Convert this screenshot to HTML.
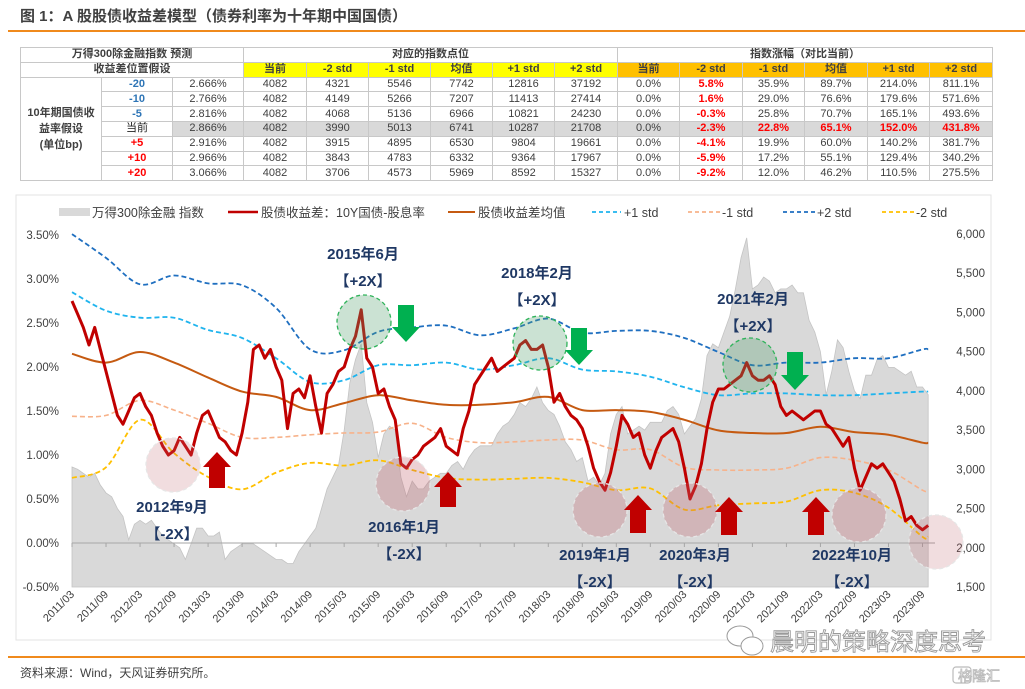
<!DOCTYPE html>
<html><head><meta charset="utf-8">
<style>
*{margin:0;padding:0;box-sizing:border-box}
body{width:1025px;height:689px;background:#fff;position:relative;overflow:hidden;font-family:"Liberation Sans","Noto Sans CJK SC",sans-serif;color:#404040}
#title{position:absolute;left:20px;top:5px;font-size:15px;font-weight:bold;color:#404040;white-space:nowrap}
.hline{position:absolute;left:8px;width:1017px;height:1.5px;background:#f08a1c}
#tbl{position:absolute;left:20px;top:47px;border-collapse:collapse;table-layout:fixed;font-size:11px}
#tbl td{border:1px solid #c8c8c8;height:14.8px;padding:0;text-align:center;line-height:13px;color:#404040;white-space:nowrap;overflow:hidden}
.b{font-weight:bold}
.y{background:#ffff00;font-weight:bold;color:#333}
.o{background:#ffc000;font-weight:bold;color:#333}
.r{color:#ff0000 !important;font-weight:bold}
.bl{color:#2e75b6 !important;font-weight:bold}
.g td{background:#d9d9d9}
#chart{position:absolute;left:0;top:0}
#footer{position:absolute;left:20px;top:664px;font-size:12px;color:#404040}
</style></head><body>
<div id="title">图 1：A 股股债收益差模型（债券利率为十年期中国国债）</div>
<div class="hline" style="top:30px"></div>

<table id="tbl">
<colgroup><col style="width:81px"><col style="width:71px"><col style="width:71px"><col style="width:63px"><col style="width:62px"><col style="width:62px"><col style="width:62px"><col style="width:62px"><col style="width:63px"><col style="width:62px"><col style="width:63px"><col style="width:62px"><col style="width:63px"><col style="width:62px"><col style="width:63px"></colgroup>
<tr><td colspan="3" class="b">万得300除金融指数 预测</td><td colspan="6" class="b">对应的指数点位</td><td colspan="6" class="b">指数涨幅（对比当前）</td></tr>
<tr><td colspan="3" class="b">收益差位置假设</td><td class="y">当前</td><td class="y">-2 std</td><td class="y">-1 std</td><td class="y">均值</td><td class="y">+1 std</td><td class="y">+2 std</td><td class="o">当前</td><td class="o">-2 std</td><td class="o">-1 std</td><td class="o">均值</td><td class="o">+1 std</td><td class="o">+2 std</td></tr>
<tr><td rowspan="7" class="b" style="line-height:16px">10年期国债收<br>益率假设<br>(单位bp)</td><td class="bl">-20</td><td>2.666%</td><td>4082</td><td>4321</td><td>5546</td><td>7742</td><td>12816</td><td>37192</td><td>0.0%</td><td class="r">5.8%</td><td>35.9%</td><td>89.7%</td><td>214.0%</td><td>811.1%</td></tr>
<tr><td class="bl">-10</td><td>2.766%</td><td>4082</td><td>4149</td><td>5266</td><td>7207</td><td>11413</td><td>27414</td><td>0.0%</td><td class="r">1.6%</td><td>29.0%</td><td>76.6%</td><td>179.6%</td><td>571.6%</td></tr>
<tr><td class="bl">-5</td><td>2.816%</td><td>4082</td><td>4068</td><td>5136</td><td>6966</td><td>10821</td><td>24230</td><td>0.0%</td><td class="r">-0.3%</td><td>25.8%</td><td>70.7%</td><td>165.1%</td><td>493.6%</td></tr>
<tr class="g"><td style="background:#fff;color:#222">当前</td><td>2.866%</td><td>4082</td><td>3990</td><td>5013</td><td>6741</td><td>10287</td><td>21708</td><td>0.0%</td><td class="r">-2.3%</td><td class="r">22.8%</td><td class="r">65.1%</td><td class="r">152.0%</td><td class="r">431.8%</td></tr>
<tr><td class="r">+5</td><td>2.916%</td><td>4082</td><td>3915</td><td>4895</td><td>6530</td><td>9804</td><td>19661</td><td>0.0%</td><td class="r">-4.1%</td><td>19.9%</td><td>60.0%</td><td>140.2%</td><td>381.7%</td></tr>
<tr><td class="r">+10</td><td>2.966%</td><td>4082</td><td>3843</td><td>4783</td><td>6332</td><td>9364</td><td>17967</td><td>0.0%</td><td class="r">-5.9%</td><td>17.2%</td><td>55.1%</td><td>129.4%</td><td>340.2%</td></tr>
<tr><td class="r">+20</td><td>3.066%</td><td>4082</td><td>3706</td><td>4573</td><td>5969</td><td>8592</td><td>15327</td><td>0.0%</td><td class="r">-9.2%</td><td>12.0%</td><td>46.2%</td><td>110.5%</td><td>275.5%</td></tr>
</table>

<svg id="chart" width="1025" height="689" xmlns="http://www.w3.org/2000/svg"></svg>

<div class="hline" style="top:656px"></div>
<div id="footer">资料来源：Wind，天风证券研究所。</div>

<script>
// ---- data (monthly from 2011/03) ----
const spread = [2.75,2.6,2.45,2.25,2.45,2.2,1.95,1.7,1.45,1.35,
1.5,1.65,1.7,1.55,1.45,1.25,1.1,1.0,1.05,1.2,1.1,1.0,
1.25,1.45,1.5,1.35,1.2,1.15,1.05,1.0,1.25,1.6,2.2,2.25,
2.1,2.2,2.0,1.85,1.3,1.7,1.75,1.65,1.9,1.55,1.25,1.7,
1.8,1.95,2.0,2.2,2.35,2.65,2.1,2.0,1.7,1.75,1.55,1.4,
0.9,0.85,0.95,1.0,1.1,1.15,1.2,1.3,1.1,1.05,1.0,1.3,
1.5,1.8,1.9,2.0,2.1,1.95,2.0,2.05,2.1,2.25,2.3,2.2,
2.2,2.25,2.0,1.6,1.7,1.55,1.45,1.4,1.3,1.1,0.85,0.7,
0.6,0.8,1.1,1.45,1.35,1.2,1.25,1.0,0.85,1.05,1.2,1.25,
1.3,1.15,0.85,0.5,0.65,0.9,1.3,1.6,1.75,1.75,1.8,1.85,
1.9,2.05,1.9,1.85,1.85,1.9,1.8,1.55,1.45,1.5,1.45,1.4,
1.45,1.5,1.5,1.35,1.3,1.2,1.1,1.2,0.85,0.6,0.75,0.9,
0.85,0.9,0.8,0.7,0.5,0.25,0.3,0.2,0.15,0.2];
const indexVals = [3030,3000,2950,2900,2950,2800,2700,2650,2500,2400,
2100,2300,2350,2300,2350,2250,2150,2100,2050,2000,1850,2050,
2250,2250,2150,2150,2200,1850,1950,2000,2050,2050,2050,2000,
1950,1900,1850,1850,1800,1800,1950,2050,2150,2250,2500,2750,
2900,3050,3500,4100,4400,4600,3850,3600,3150,3450,3550,3500,
2900,2650,2850,2750,2750,2850,2900,2950,2950,3050,3100,3000,
3150,3250,3300,3300,3300,3450,3550,3600,3700,3850,3800,3900,
4050,3850,3750,3700,3550,3350,3250,3100,3150,2850,2900,2800,
2950,3450,3700,3800,3450,3500,3550,3500,3600,3600,3600,3750,
3800,3700,3450,3550,3650,3900,4450,4600,4550,4750,4950,5300,
5700,5950,5300,5350,5450,5400,5250,5300,5300,5350,5250,5250,
4900,4750,4500,3950,4250,4650,4550,4250,4000,3900,4200,4200,
4400,4450,4300,4300,4250,4200,4250,4050,4050,3950];
// bands, every 6 months from 2011/03
const plus2 = [3.51,3.24,2.94,3.04,2.95,2.93,2.67,2.2,2.19,2.4,2.45,2.47,2.36,2.44,2.55,2.39,2.41,2.41,2.33,2.17,2.02,2.05,2.05,2.1,2.1,2.2];
const plus1 = [2.85,2.64,2.56,2.56,2.42,2.33,2.1,1.83,1.85,2.02,2.02,2.05,1.97,2.02,2.1,1.97,1.95,1.89,1.77,1.68,1.7,1.7,1.68,1.68,1.7,1.72];
const meanV = [2.15,2.05,2.17,2.05,1.88,1.72,1.66,1.51,1.59,1.68,1.62,1.57,1.57,1.6,1.66,1.51,1.51,1.49,1.4,1.28,1.25,1.25,1.32,1.26,1.23,1.14];
const minus1 = [1.44,1.45,1.62,1.51,1.36,1.2,1.2,1.23,1.25,1.26,1.36,1.2,1.14,1.15,1.17,1.17,1.06,1.06,0.86,0.83,0.83,0.85,0.97,0.94,0.83,0.6];
const minus2 = [0.74,0.86,1.4,1.02,0.75,0.61,0.8,0.91,0.88,0.94,0.83,0.74,0.72,0.73,0.74,0.69,0.6,0.62,0.38,0.43,0.45,0.47,0.6,0.57,0.4,0.07];
const xTicks = ["2011/03","2011/09","2012/03","2012/09","2013/03","2013/09","2014/03","2014/09","2015/03","2015/09","2016/03","2016/09","2017/03","2017/09","2018/03","2018/09","2019/03","2019/09","2020/03","2020/09","2021/03","2021/09","2022/03","2022/09","2023/03","2023/09"];
const leftTicks = [3.5,3.0,2.5,2.0,1.5,1.0,0.5,0.0,-0.5];
const rightTicks = [6000,5500,5000,4500,4000,3500,3000,2500,2000,1500];

const NS="http://www.w3.org/2000/svg";
const svg=document.getElementById('chart');
const X0=72, PX_M=5.67, PB=587;
const xm = m => X0 + m*PX_M;
const yL = v => 543 - v*88;
const yR = v => 587 - (v-1500)*353/4500;
function el(tag, attrs, parent){const e=document.createElementNS(NS,tag);for(const k in attrs)e.setAttribute(k,attrs[k]);(parent||svg).appendChild(e);return e;}
function txt(s, attrs){const t=el('text',attrs);t.textContent=s;return t;}
function smooth(pts){let d='M'+pts[0][0].toFixed(1)+','+pts[0][1].toFixed(1);
 for(let i=0;i<pts.length-1;i++){const p0=pts[i-1]||pts[i],p1=pts[i],p2=pts[i+1],p3=pts[i+2]||p2;
 const c1=[p1[0]+(p2[0]-p0[0])/6,p1[1]+(p2[1]-p0[1])/6],c2=[p2[0]-(p3[0]-p1[0])/6,p2[1]-(p3[1]-p1[1])/6];
 d+=' C'+c1[0].toFixed(1)+','+c1[1].toFixed(1)+' '+c2[0].toFixed(1)+','+c2[1].toFixed(1)+' '+p2[0].toFixed(1)+','+p2[1].toFixed(1);}return d;}

// frame
let fr=el('rect',{x:16,y:195,width:975,height:445,fill:'none',stroke:'#e3e3e3','stroke-width':1});



// index area
let ad='M'+xm(0)+','+PB;
indexVals.forEach((v,i)=>{ad+=' L'+xm(i).toFixed(1)+','+yR(v).toFixed(1);});
ad+=' L'+xm(indexVals.length-1).toFixed(1)+','+PB+' Z';
let area=el('path',{d:ad,fill:'#d9d9d9',stroke:'#c4c4c4','stroke-width':0.8});



// zero axis + ticks
el('line',{x1:X0,y1:yL(0),x2:935,y2:yL(0),stroke:'#a6a6a6','stroke-width':1});
xTicks.forEach((s,i)=>{const x=xm(i*6);
 el('line',{x1:x,y1:yL(0),x2:x,y2:yL(0)+4,stroke:'#a6a6a6'});
 const t=txt(s,{x:x+3,y:PB+8,'font-size':11,fill:'#404040','text-anchor':'end',transform:'rotate(-45 '+(x+3)+' '+(PB+8)+')'});
 
 
});
leftTicks.forEach(v=>{const t=txt(v.toFixed(2)+'%',{x:59,y:yL(v)+4,'font-size':11.5,fill:'#404040','text-anchor':'end'});
 
 });
rightTicks.forEach(v=>{const t=txt(v.toLocaleString('en-US'),{x:985,y:yR(v)+4,'font-size':11.5,fill:'#404040','text-anchor':'end'});
 
 });

// bands
function band(arr,color,dash,w,name){const pts=arr.map((v,i)=>[xm(i*6),yL(v)]);
 pts.push([xm(151),yL(arr[arr.length-1])]);
 const p=el('path',{d:smooth(pts),fill:'none',stroke:color,'stroke-width':w,'stroke-dasharray':dash});
 
 }
band(minus1,'#f7b28a','5 3',1.6,'minus1-std-line');
band(minus2,'#ffc000','5 3',1.8,'minus2-std-line');
band(meanV,'#c55a11','',2,'mean-line');
band(plus1,'#1fb4ee','5 3',1.8,'plus1-std-line');
band(plus2,'#1f6fc0','5 3',1.8,'plus2-std-line');

// spread line
let sd='';spread.forEach((v,i)=>{sd+=(i?' L':'M')+xm(i).toFixed(1)+','+yL(v).toFixed(1);});
let sp=el('path',{d:sd,fill:'none',stroke:'#c00000','stroke-width':3,'stroke-linejoin':'round'});



// circles
[[364,322],[540,343],[750,365]].forEach(c=>{const e=el('circle',{cx:c[0],cy:c[1],r:27,fill:'rgba(84,160,110,0.3)',stroke:'#2fb35a','stroke-width':1.3,'stroke-dasharray':'4 3'});
 
 });
[[173,465,0.22],[403,484,0.3],[600,510,0.3],[690,510,0.3],[859,515,0.3],[936,542,0.22]].forEach(c=>{const e=el('circle',{cx:c[0],cy:c[1],r:27,fill:'rgba(192,100,110,'+c[2]+')',stroke:'#e6e6e6','stroke-width':1.3,'stroke-dasharray':'4 3'});
 
 });

// arrows
function arrow(x,y1,y2,down,color){const hw=14,sw=8,hh=15;let d;
 if(down){d=`M${x-sw},${y1} L${x+sw},${y1} L${x+sw},${y2-hh} L${x+hw},${y2-hh} L${x},${y2} L${x-hw},${y2-hh} L${x-sw},${y2-hh} Z`;}
 else{d=`M${x-sw},${y2} L${x+sw},${y2} L${x+sw},${y1+hh} L${x+hw},${y1+hh} L${x},${y1} L${x-hw},${y1+hh} L${x-sw},${y1+hh} Z`;}
 const p=el('path',{d:d,fill:color});
 
 }
arrow(406,305,342,true,'#00b050');arrow(579,328,365,true,'#00b050');arrow(795,352,390,true,'#00b050');
arrow(217,452,488,false,'#c00000');arrow(448,472,507,false,'#c00000');arrow(638,495,533,false,'#c00000');arrow(729,497,535,false,'#c00000');arrow(816,497,535,false,'#c00000');

// annotation labels
[["2015年6月","【+2X】",363,259],["2018年2月","【+2X】",537,278],["2021年2月","【+2X】",753,304],["2012年9月","【-2X】",172,512],["2016年1月","【-2X】",404,532],["2019年1月","【-2X】",595,560],["2020年3月","【-2X】",695,560],["2022年10月","【-2X】",852,560]].forEach(a=>{
 const t1=txt(a[0],{x:a[2],y:a[3],'font-size':15,'font-weight':'bold',fill:'#1f3864','text-anchor':'middle'});
 
 
 const t2=txt(a[1],{x:a[2],y:a[3]+27,'font-size':15,'font-weight':'bold',fill:'#1f3864','text-anchor':'middle'});
 
 });

// legend
const lg=el('g',{});


el('rect',{x:59,y:208,width:31,height:8,fill:'#d9d9d9'},lg);
el('line',{x1:228,y1:212,x2:258,y2:212,stroke:'#c00000','stroke-width':2.5},lg);
el('line',{x1:448,y1:212,x2:475,y2:212,stroke:'#c55a11','stroke-width':2},lg);
el('line',{x1:592,y1:212,x2:621,y2:212,stroke:'#1fb4ee','stroke-width':1.8,'stroke-dasharray':'4 3'},lg);
el('line',{x1:688,y1:212,x2:720,y2:212,stroke:'#f7b28a','stroke-width':1.8,'stroke-dasharray':'4 3'},lg);
el('line',{x1:783,y1:212,x2:815,y2:212,stroke:'#1f6fc0','stroke-width':1.8,'stroke-dasharray':'4 3'},lg);
el('line',{x1:882,y1:212,x2:915,y2:212,stroke:'#ffc000','stroke-width':1.8,'stroke-dasharray':'4 3'},lg);
[["万得300除金融 指数",92],["股债收益差：10Y国债-股息率",261],["股债收益差均值",478],["+1 std",624],["-1 std",722],["+2 std",817],["-2 std",916]].forEach(l=>{
 const t=txt(l[0],{x:l[1],y:217,'font-size':12.5,fill:'#404040'});
 
 });

// watermark
let wm=txt('晨明的策略深度思考',{x:770,y:650,'font-size':24,fill:'none',stroke:'#9a9a9a','stroke-width':0.9});


el('ellipse',{cx:740,cy:636,rx:13,ry:10,fill:'#fff',stroke:'#9a9a9a','stroke-width':1});
el('ellipse',{cx:752,cy:646,rx:11,ry:9,fill:'#fff',stroke:'#9a9a9a','stroke-width':1});
let gl=txt('格隆汇',{x:958,y:681,'font-size':14,fill:'none',stroke:'#bbb','stroke-width':0.8});


el('rect',{x:953,y:667,width:18,height:16,rx:3,fill:'none',stroke:'#bbb','stroke-width':1.2});
</script>
</body></html>
